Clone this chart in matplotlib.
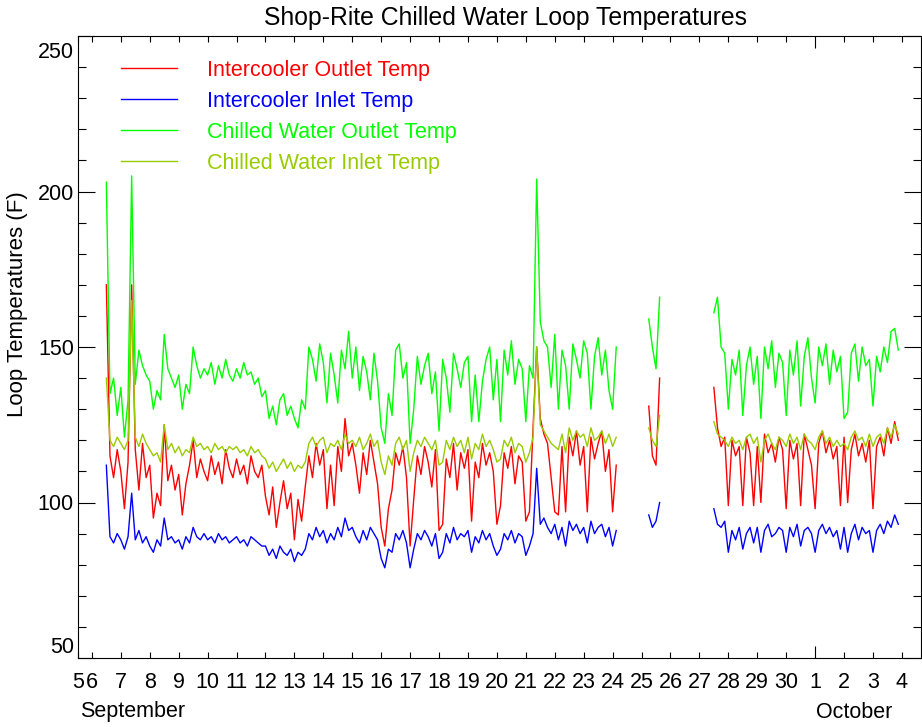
import numpy as np
import matplotlib
matplotlib.use("Agg")
import matplotlib.pyplot as plt
from matplotlib.transforms import ScaledTranslation

plt.rcParams['font.family'] = ['Liberation Sans', 'DejaVu Sans']

# readings every 3 hours, x in days of September (Oct 1 = 31)
step = 1 / 8.0
seg_starts = [6.5, 25.25, 27.5]

# Intercooler Outlet Temp
ic_out = [
    [170, 115, 108, 117,
     110, 98, 113, 170, 117, 104, 119, 108,
     112, 95, 103, 99, 125, 107, 112, 104,
     109, 96, 106, 112, 120, 108, 114, 110,
     107, 115, 109, 113, 106, 117, 111, 108,
     114, 109, 112, 106, 115, 110, 108, 112,
     102, 96, 105, 92, 100, 107, 98, 103,
     88, 101, 94, 105, 115, 108, 119, 112,
     117, 98, 112, 99, 118, 110, 127, 115,
     119, 112, 103, 116, 109, 120, 113, 106,
     92, 86, 98, 104, 116, 112, 118, 108,
     86, 101, 115, 109, 118, 113, 105, 117,
     91, 93, 114, 108, 119, 104, 116, 111,
     117, 94, 113, 108, 119, 112, 116, 110,
     93, 99, 116, 111, 118, 106, 115, 113,
     94, 97, 124, 150, 127, 122, 119, 108,
     97, 96, 118, 97, 121, 115, 123, 112,
     118, 97, 121, 114, 119, 123, 110, 117,
     97, 112],
    [131, 115, 112, 140],
    [137, 124, 118, 121,
     99, 120, 115, 118, 99, 121, 116, 99,
     118, 100, 122, 116, 119, 113, 121, 117,
     98, 120, 114, 119, 99, 122, 117, 112,
     98, 119, 123, 116, 120, 114, 118, 99,
     121, 100, 117, 122, 115, 119, 113, 120,
     98, 118, 121, 115, 124, 119, 126, 120],
]

# Intercooler Inlet Temp
ic_in = [
    [112, 89, 87, 90,
     88, 85, 89, 103, 88, 91, 87, 89,
     86, 84, 88, 86, 95, 88, 89, 87,
     88, 85, 89, 87, 92, 89, 88, 90,
     88, 89, 87, 90, 88, 89, 87, 88,
     89, 87, 88, 86, 89, 88, 87, 86,
     86, 83, 85, 82, 86, 84, 83, 85,
     81, 84, 83, 85, 90, 88, 92, 89,
     91, 87, 90, 88, 92, 89, 95, 91,
     92, 89, 87, 91, 88, 92, 90, 88,
     82, 79, 85, 84, 90, 88, 91, 87,
     79, 85, 90, 88, 91, 89, 86, 90,
     82, 84, 90, 87, 92, 88, 90, 89,
     91, 84, 89, 87, 91, 88, 90, 86,
     83, 85, 90, 88, 91, 87, 90, 89,
     83, 86, 90, 111, 93, 95, 92, 90,
     93, 88, 92, 86, 94, 91, 93, 90,
     92, 87, 94, 90, 92, 93, 89, 92,
     86, 91],
    [96, 92, 94, 100],
    [98, 93, 92, 94,
     84, 91, 88, 92, 85, 90, 92, 87,
     92, 84, 91, 93, 89, 90, 92, 91,
     84, 92, 89, 93, 86, 91, 92, 90,
     84, 91, 93, 90, 92, 89, 91, 85,
     92, 84, 90, 93, 88, 92, 90, 91,
     84, 91, 93, 90, 94, 92, 96, 93],
]

# Chilled Water Outlet Temp
cw_out = [
    [203, 135, 140, 128,
     137, 121, 133, 205, 138, 149, 144, 141,
     139, 130, 136, 133, 154, 143, 140, 137,
     141, 130, 138, 135, 150, 144, 140, 143,
     141, 145, 138, 144, 140, 146, 141, 139,
     143, 140, 145, 141, 142, 138, 140, 134,
     136, 127, 131, 125, 133, 135, 128, 131,
     127, 124, 133, 130, 150, 146, 139, 151,
     145, 132, 148, 141, 132, 149, 143, 155,
     140, 150, 136, 147, 142, 133, 148, 139,
     124, 119, 135, 128, 149, 151, 140, 145,
     119, 130, 147, 138, 144, 148, 135, 142,
     123, 146, 140, 129, 148, 143, 137, 145,
     147, 126, 141, 126, 139, 146, 150, 133,
     146, 126, 149, 141, 152, 138, 146, 143,
     126, 144, 140, 204, 158, 152, 150, 137,
     154, 130, 149, 144, 130, 151, 146, 140,
     152, 148, 130, 147, 153, 141, 149, 136,
     130, 150],
    [159, 150, 143, 166],
    [161, 166, 150, 148,
     130, 146, 141, 149, 128, 144, 150, 138,
     147, 127, 150, 143, 152, 137, 148, 145,
     128, 149, 141, 152, 131, 147, 153, 140,
     132, 150, 144, 151, 138, 149, 142, 147,
     127, 129, 148, 151, 139, 150, 144, 146,
     131, 147, 142, 150, 145, 155, 156, 149],
]

# Chilled Water Inlet Temp
cw_in = [
    [140, 120, 118, 121,
     119, 117, 120, 165, 121, 118, 122, 119,
     117, 115, 116, 113, 125, 117, 119, 116,
     118, 115, 117, 116, 121, 118, 119, 117,
     118, 116, 119, 117, 118, 116, 118, 117,
     118, 116, 117, 115, 118, 116, 117, 115,
     114, 111, 113, 110, 112, 114, 111, 113,
     110, 112, 111, 113, 119, 121, 118, 120,
     121, 116, 119, 118, 120, 117, 122, 119,
     120, 118, 121, 117, 119, 122, 118, 120,
     113, 109, 115, 112, 119, 121, 117, 120,
     110, 116, 120, 118, 121, 119, 117, 120,
     112, 113, 120, 117, 121, 118, 120, 116,
     121, 114, 119, 117, 122, 118, 120, 117,
     113, 114, 120, 118, 121, 116, 119, 118,
     113, 116, 121, 150, 125, 123, 121, 119,
     118, 117, 122, 116, 124, 120, 123, 121,
     122, 118, 124, 120, 121, 123, 119, 122,
     118, 121],
    [124, 120, 118, 128],
    [126, 122, 121, 120,
     118, 121, 119, 120, 117, 121, 122, 119,
     121, 113, 120, 122, 119, 117, 121, 120,
     118, 122, 119, 121, 117, 122, 120, 119,
     117, 121, 123, 119, 121, 118, 120, 118,
     119, 117, 121, 123, 120, 121, 118, 122,
     118, 121, 122, 119, 124, 121, 125, 122],
]

series = [
    ("Intercooler Outlet Temp", ic_out, "#ff0000"),
    ("Intercooler Inlet Temp", ic_in, "#0000ff"),
    ("Chilled Water Outlet Temp", cw_out, "#00ff00"),
    ("Chilled Water Inlet Temp", cw_in, "#99cc00"),
]

day_ticks = list(range(6, 35))
day_labels = [str(d) if d <= 30 else str(d - 30) for d in day_ticks]
x_min, x_max = 5.52, 34.66

fig = plt.figure(figsize=(9.22, 7.27), dpi=100)
ax = fig.add_axes([78 / 922, 69 / 727, 843 / 922, 622 / 727])

for name, segs, col in series:
    for i, (start, vals) in enumerate(zip(seg_starts, segs)):
        t = start + step * np.arange(len(vals))
        ax.plot(t, vals, color=col, lw=1.0, label=name if i == 0 else None)

ax.set_xlim(x_min, x_max)
ax.set_ylim(50, 250)

ax.set_xticks([x_min] + day_ticks)
ax.set_xticklabels(["5"] + day_labels)
ax.set_yticks(np.arange(50, 251, 50))
ax.set_yticks(np.arange(50, 251, 10), minor=True)

ax.tick_params(axis='x', which='major', direction='in', length=4.3, width=0.8,
               top=True, labelsize=15.5, pad=10)
ax.tick_params(axis='y', which='major', direction='in', length=12, width=0.8,
               right=True, labelsize=15.5, pad=3)
ax.tick_params(axis='y', which='minor', direction='in', length=6, width=0.8,
               right=True)
for sp in ax.spines.values():
    sp.set_linewidth(0.8)

# longer tick at the start of October
oct_tick = ax.xaxis.get_major_ticks()[1 + day_ticks.index(31)]
oct_tick.tick1line.set_markersize(8.6)
oct_tick.tick2line.set_markersize(8.6)

yt = ax.yaxis.get_major_ticks()
yt[0].label1.set_va('bottom')
yt[-1].label1.set_va('top')
yt[-1].label1.set_transform(yt[-1].label1.get_transform() +
                            ScaledTranslation(0, -4 / 72, fig.dpi_scale_trans))

ax.legend(loc='upper left', bbox_to_anchor=(43 / 843, 0.962), frameon=False,
          fontsize=15.5, labelcolor='linecolor', handlelength=2.6,
          handletextpad=1.4, labelspacing=0.47, borderpad=0, borderaxespad=0)

fig.text(505 / 922, 1 - 18 / 727, "Shop-Rite Chilled Water Loop Temperatures",
         ha='center', va='center', fontsize=17.8)
fig.text(18 / 922, 1 - 304 / 727, "Loop Temperatures (F)", rotation=90,
         ha='center', va='center', fontsize=16)
fig.text(80 / 922, 1 - 712 / 727, "September", ha='left', va='center', fontsize=15.5)
fig.text(816 / 922, 1 - 712 / 727, "October", ha='left', va='center', fontsize=15.5)

fig.savefig("out.png", dpi=100)
